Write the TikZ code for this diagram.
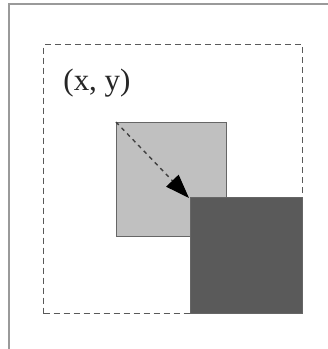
\documentclass[tikz,border=0pt]{standalone}
\usepackage{fontspec}
\setmainfont{Liberation Serif}
\usetikzlibrary{arrows.meta}
\definecolor{lightsq}{HTML}{C0C0C0}
\definecolor{darksq}{HTML}{5A5A5A}
\definecolor{framegray}{HTML}{9A9A9A}
\begin{document}
\begin{tikzpicture}[x=1pt,y=-1pt,
  sq/.style={draw=black!60, line width=1pt, inner sep=0pt, anchor=north west},
  area/.style={draw=black!65, dashed, dash pattern=on 6pt off 4pt, line width=1.1pt, inner sep=0pt, anchor=north west, minimum width=259pt, minimum height=269pt},
  mover/.style={draw=black!75, dashed, dash pattern=on 4pt off 4pt, line width=1.4pt, -{Triangle[length=24pt,width=17pt,color=black,fill=black]}}]
\useasboundingbox (0,0) rectangle (328,349);
\fill[white] (0,0) rectangle (328,349);
% outer frame (top and left edges)
\draw[framegray, line width=2.4pt] (9,349) -- (9,4) -- (328,4);
\node[area] (zone) at (43,44) {};
\node[anchor=center, inner sep=0pt, font=\fontsize{31}{33}\selectfont, text=black!85] (lbl) at (97,83) {(x, y)};
\node[sq, fill=lightsq, minimum width=110pt, minimum height=114pt] (old) at (116,122) {};
\node[sq, fill=darksq, minimum width=112pt, minimum height=116pt] (new) at (190,197) {};
\draw[mover] (old.north west) -- ([shift={(-1pt,-1pt)}]new.north west);
\end{tikzpicture}
\end{document}
